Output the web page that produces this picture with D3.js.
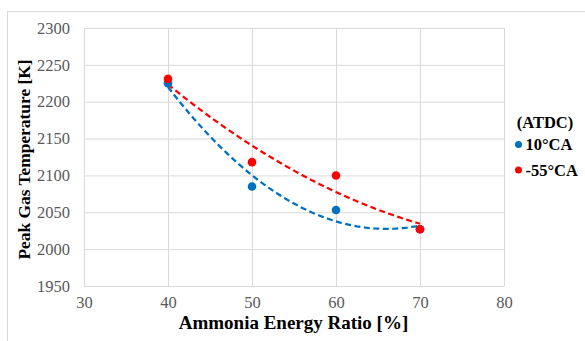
<!DOCTYPE html>
<html>
<head>
<meta charset="utf-8">
<script src="https://cdn.jsdelivr.net/npm/d3@7/dist/d3.min.js"></script>
<style>
  body { margin: 0; background: #fff; }
  svg text { font-family: "Liberation Serif", "Times New Roman", Times, "DejaVu Serif", serif !important; }
</style>
</head>
<body>
<svg id="chart" width="585" height="341"></svg>
<script>
// data
const ratios = [40, 50, 60, 70];
const temp10 = [2225, 2085, 2053, 2027];
const tempNeg55 = [2231, 2118, 2100, 2027];
const xTicks = [30, 40, 50, 60, 70, 80];
const yTicks = [1950, 2000, 2050, 2100, 2150, 2200, 2250, 2300];
const seriesNames = ["10°CA", "-55°CA"];
const seriesColors = ["#0070C0", "#FF0000"];

const margin = {top: 28, left: 84, right: 81, bottom: 55};
const width = 585 - margin.left - margin.right;
const height = 341 - margin.top - margin.bottom;

// quadratic least-squares trendline (like Excel's poly order 2)
function polyFit(xs, ys) {
    let n = xs.length, s = [0, 0, 0, 0, 0], t = [0, 0, 0];
    for (let i = 0; i < n; i++) {
        for (let k = 0; k < 5; k++) s[k] += Math.pow(xs[i], k);
        for (let k = 0; k < 3; k++) t[k] += ys[i] * Math.pow(xs[i], k);
    }
    let m = [[s[0], s[1], s[2], t[0]], [s[1], s[2], s[3], t[1]], [s[2], s[3], s[4], t[2]]];
    for (let i = 0; i < 3; i++) {
        for (let j = i + 1; j < 3; j++) {
            let f = m[j][i] / m[i][i];
            for (let k = i; k < 4; k++) m[j][k] -= f * m[i][k];
        }
    }
    let c = [0, 0, 0];
    for (let i = 2; i >= 0; i--) {
        let v = m[i][3];
        for (let k = i + 1; k < 3; k++) v -= m[i][k] * c[k];
        c[i] = v / m[i][i];
    }
    return x => c[0] + c[1] * x + c[2] * x * x;
}

let svg = d3.select('#chart');

// outer chart frame
svg.append('rect')
    .attr('x', 7.5).attr('y', 11.5)
    .attr('width', 600).attr('height', 360)
    .attr('fill', 'none').attr('stroke', '#d9d9d9');

let scaleX = d3.scaleLinear().domain([30, 80]).range([0, width]);
let scaleY = d3.scaleLinear().domain([1950, 2300]).range([height, 0]);

let plot = svg.append('g')
    .attr('transform', 'translate(' + margin.left + ',' + margin.top + ')');

// gridlines
plot.append('g')
    .call(d3.axisLeft(scaleY).tickValues(yTicks).tickSize(-width).tickFormat(''))
    .call(g => g.select('.domain').remove())
    .selectAll('line').attr('stroke', '#d9d9d9');
plot.append('g')
    .attr('transform', 'translate(0,' + height + ')')
    .call(d3.axisBottom(scaleX).tickValues(xTicks).tickSize(-height).tickFormat(''))
    .call(g => g.select('.domain').remove())
    .selectAll('line').attr('stroke', '#d9d9d9');

// tick labels
plot.append('g')
    .call(d3.axisLeft(scaleY).tickValues(yTicks).tickSize(0).tickPadding(14).tickFormat(d3.format('d')))
    .call(g => g.select('.domain').remove())
    .selectAll('text')
    .attr('font-size', 16.5).attr('fill', '#595959');
plot.append('g')
    .attr('transform', 'translate(0,' + height + ')')
    .call(d3.axisBottom(scaleX).tickValues(xTicks).tickSize(0).tickPadding(10).tickFormat(d3.format('d')))
    .call(g => g.select('.domain').remove())
    .selectAll('text')
    .attr('font-size', 16.5).attr('fill', '#595959');

// trendlines + points
let allSeries = [temp10, tempNeg55];
allSeries.forEach((vals, i) => {
    let fit = polyFit(ratios, vals);
    let xs = d3.range(ratios[0], ratios[ratios.length - 1] + 0.01, 0.5);
    plot.append('path')
        .datum(xs)
        .attr('fill', 'none')
        .attr('stroke', seriesColors[i])
        .attr('stroke-width', 2.25)
        .attr('stroke-dasharray', '6,3.5')
        .attr('d', d3.line().x(d => scaleX(d)).y(d => scaleY(fit(d))));
});
allSeries.forEach((vals, i) => {
    plot.selectAll('.pt' + i)
        .data(vals)
        .enter().append('circle')
        .attr('cx', (d, j) => scaleX(ratios[j]))
        .attr('cy', d => scaleY(d))
        .attr('r', 4.3)
        .attr('fill', seriesColors[i]);
});

// axis titles
svg.append('text')
    .attr('x', 293.5).attr('y', 329)
    .attr('text-anchor', 'middle')
    .attr('font-size', 19).attr('font-weight', 'bold').attr('fill', '#000')
    .text('Ammonia Energy Ratio [%]');
svg.append('text')
    .attr('transform', 'translate(29.5,159.5) rotate(-90)')
    .attr('text-anchor', 'middle')
    .attr('font-size', 17.4).attr('font-weight', 'bold').attr('fill', '#000')
    .text('Peak Gas Temperature [K]');

// legend
let legend = svg.append('g');
legend.append('text')
    .attr('x', 545).attr('y', 127.5)
    .attr('text-anchor', 'middle')
    .attr('font-size', 16.5).attr('font-weight', 'bold')
    .text('(ATDC)');
seriesNames.forEach((name, i) => {
    let y = 144.5 + i * 25.5;
    legend.append('circle')
        .attr('cx', 518.5).attr('cy', y).attr('r', 3.5)
        .attr('fill', seriesColors[i]);
    legend.append('text')
        .attr('x', 525.5).attr('y', y + 5.5)
        .attr('font-size', 16.5).attr('font-weight', 'bold')
        .text(name);
});
</script>
</body>
</html>
